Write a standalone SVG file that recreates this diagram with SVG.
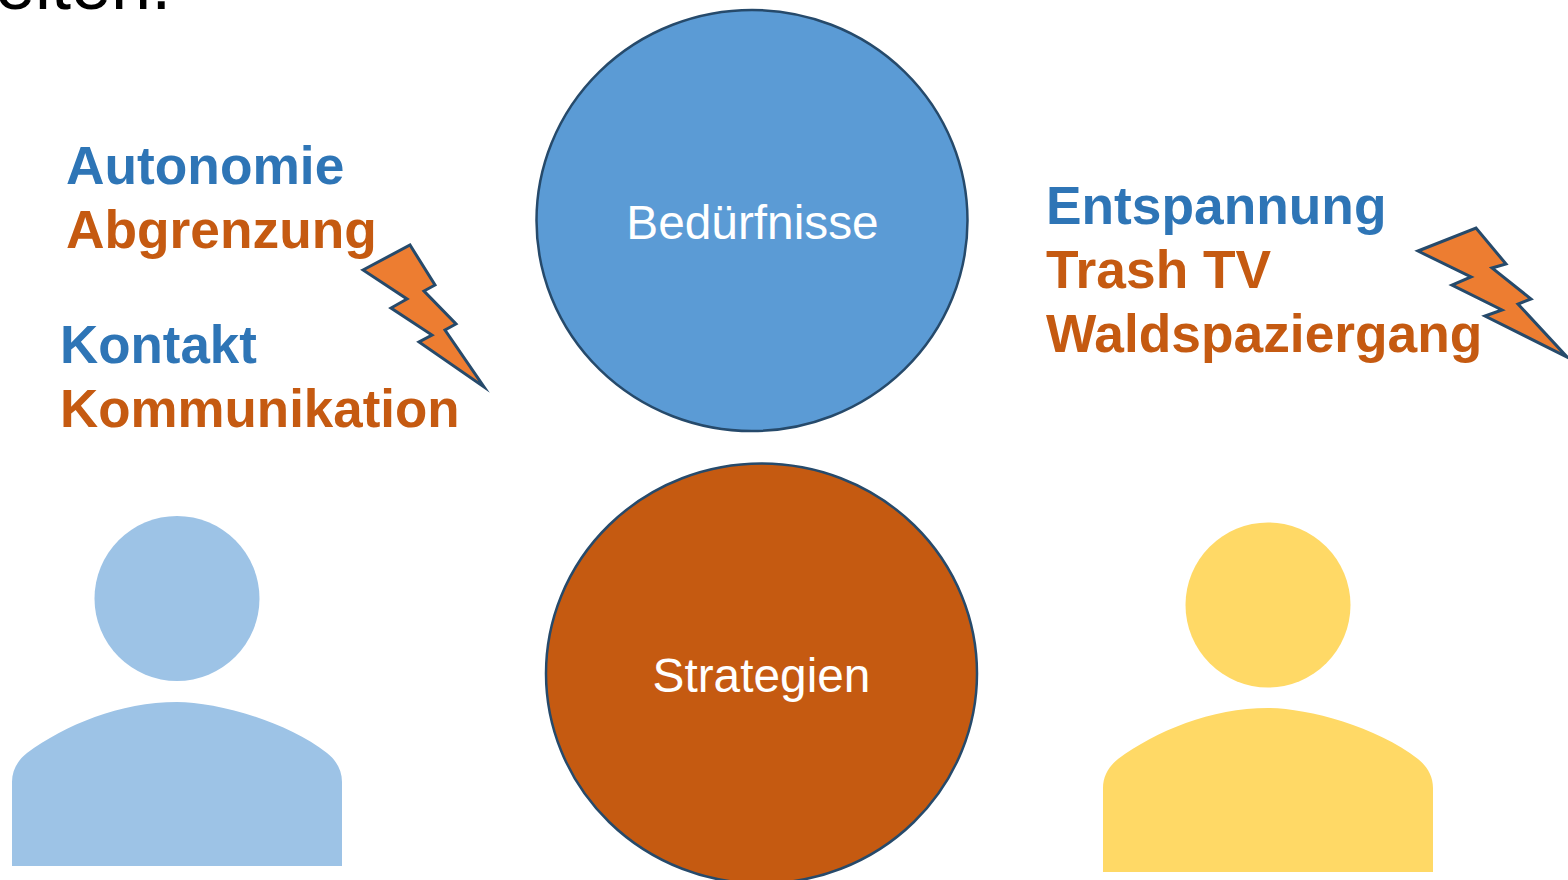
<svg xmlns="http://www.w3.org/2000/svg" width="1568" height="880" viewBox="0 0 1568 880">
<defs><style>
text{font-family:"Liberation Sans",Arial,sans-serif}
.l{font-size:53.300px;font-weight:700}
.k{font-size:52.900px}
.b{fill:#2e75b6}.o{fill:#c55a11}
.c{font-size:47.800px;fill:#fff;text-anchor:middle}
.s{stroke:#264a6b;stroke-width:2.500}
.z{fill:#ed7d31;stroke:#264a6b;stroke-width:3;stroke-miterlimit:7}
</style></defs>
<rect width="1568" height="880" fill="#fff"/>
<text x="-53" y="9" style="font-size:72px;fill:#000">Seiten.</text>
<g id="node-beduerfnisse"><ellipse class="s" cx="752" cy="220.500" rx="215.500" ry="210.500" fill="#5b9bd5"/><text class="c" x="752.500" y="239">Bedürfnisse</text></g>
<g id="node-strategien"><ellipse class="s" cx="761.500" cy="673.500" rx="215.500" ry="210" fill="#c55a11"/><text class="c" x="761.500" y="692">Strategien</text></g>
<g id="labels-left"><text class="l b" x="66" y="184">Autonomie</text><text class="l o" x="66" y="248">Abgrenzung</text><text class="l k b" x="60" y="363">Kontakt</text><text class="l k o" x="60" y="427">Kommunikation</text></g>
<g id="labels-right"><text class="l b" x="1046" y="224">Entspannung</text><text class="l o" x="1046" y="288">Trash TV</text><text class="l o" x="1046" y="352">Waldspaziergang</text></g>
<g id="bolt-left"><polygon class="z" points="363,270 410,245 435,285 424,291 456,324 445,330 484,387 419,342 432,335 391,308 407,299"/></g>
<g id="bolt-right"><polygon class="z" points="1418,251 1476,228 1506,264 1492,268 1531,299 1518,304 1567,357 1485,316 1502,310 1452,285 1471,277"/></g>
<g id="person-left" fill="#9dc3e6"><circle cx="177" cy="598.500" r="82.500"/><path d="M12 866V782C12 770 18 760 27 753C65 725 120 702 177 702C215 702 285 720 327 753C336 760 342 770 342 782V866Z"/></g>
<g id="person-right" fill="#ffd966"><circle cx="1268" cy="605" r="82.500"/><path d="M1103 872V788C1103 776 1109 766 1118 759C1156 731 1211 708 1268 708C1306 708 1376 726 1418 759C1427 766 1433 776 1433 788V872Z"/></g>
<g id="connectors"/>
</svg>
